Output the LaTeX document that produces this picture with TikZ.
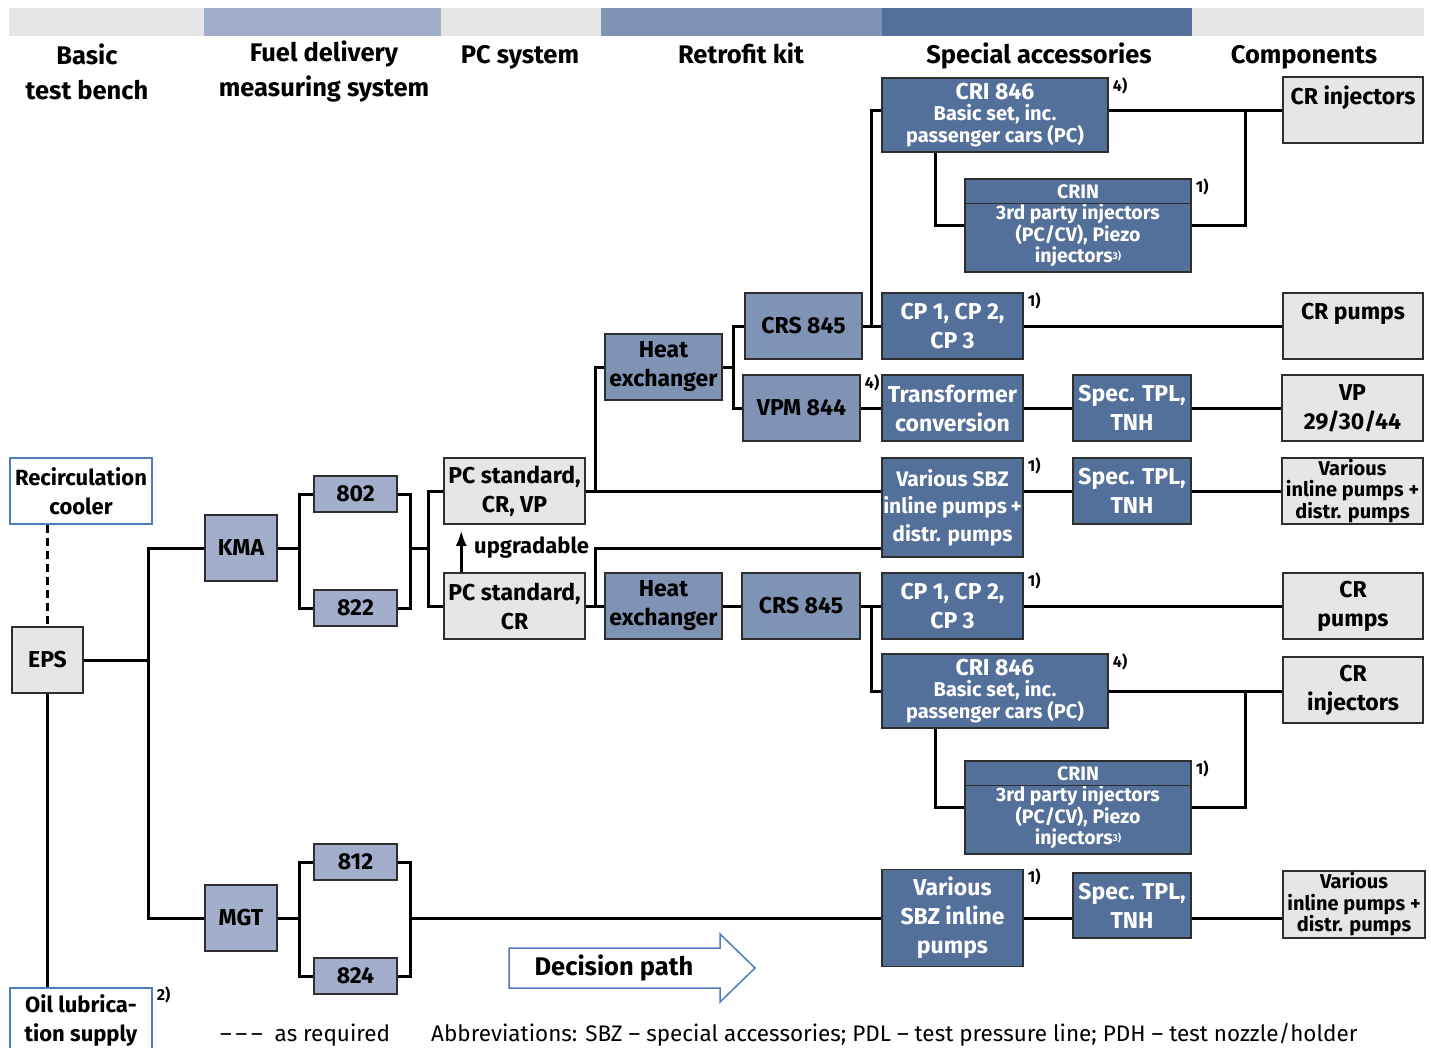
\documentclass[tikz,border=0pt]{standalone}
\usepackage{fontspec}
\setmainfont{Fira Sans}
\usetikzlibrary{arrows.meta}
\definecolor{boxgray}{HTML}{E6E6E6}
\definecolor{bluelite}{HTML}{A3AECA}
\definecolor{bluemid}{HTML}{7F93B4}
\definecolor{bluedark}{HTML}{53709B}
\definecolor{blueline}{HTML}{4F7DB8}
\definecolor{edgegray}{HTML}{2E2E2E}
\newcommand{\fnmark}[1]{\raisebox{3pt}{\fontsize{10}{10}\selectfont #1}}
\begin{document}
\begin{tikzpicture}[x=1pt,y=-1pt,
  box/.style={draw=edgegray, line width=1.5pt, inner sep=0pt, align=center,
    font=\bfseries\fontsize{23}{29}\selectfont},
  wh/.style 2 args={minimum width=#1pt, minimum height=#2pt},
  graybox/.style={box, fill=boxgray},
  litebox/.style={box, fill=bluelite},
  midbox/.style={box, fill=bluemid},
  darkbox/.style={box, fill=bluedark, text=white},
  plainbox/.style={box, fill=white, draw=blueline, font=\bfseries\fontsize{22}{29}\selectfont},
  smalltext/.style={font=\bfseries\fontsize{20}{21.5}\selectfont},
  crintext/.style={font=\bfseries\fontsize{19.5}{21}\selectfont},
  head/.style={font=\bfseries\fontsize{25.5}{35}\selectfont, align=center},
  fnote/.style={font=\bfseries\fontsize{16}{16}\selectfont, anchor=north west, inner sep=0pt, xshift=4pt},
  wire/.style={line width=3pt}]
\useasboundingbox (0,0) rectangle (1431,1047);
\clip (0,0) rectangle (1431,1047);

% column bars and titles
\fill[boxgray] (9,8) rectangle (204,36);
\fill[bluelite] (204,8) rectangle (441,36);
\fill[boxgray] (441,8) rectangle (601,36);
\fill[bluemid] (601,8) rectangle (882,36);
\fill[bluedark] (882,8) rectangle (1192,36);
\fill[boxgray] (1192,8) rectangle (1424,36);
\node[head] (hBasic) at (87,71.5) {Basic\\test bench};
\node[head] (hFuel) at (324,71.5) {Fuel delivery\\measuring system};
\node[head, anchor=base] (hPC) at (520,63) {PC system};
\node[head, anchor=base] (hRetro) at (741,63) {Retrofit kit};
\node[head, anchor=base] (hSpec) at (1039,63) {Special accessories};
\node[head, anchor=base] (hComp) at (1304,63) {Components};

% basic test bench
\node[plainbox, wh={142}{66}] (cooler) at (81,491) {Recirculation\\cooler};
\node[graybox, wh={71}{66}] (eps) at (47.5,660) {EPS};
\node[plainbox, wh={142}{66}, anchor=north] (oil) at (81,987) {Oil lubrica-\\tion supply};
\node[fnote] at (oil.north east) {2)};

% fuel delivery measuring system
\node[litebox, wh={72}{66}] (kma) at (241,548) {KMA};
\node[litebox, wh={72}{66}] (mgt) at (241,918) {MGT};
\node[litebox, wh={83}{36}] (f802) at (355.5,494) {802};
\node[litebox, wh={83}{36}] (f822) at (355.5,608) {822};
\node[litebox, wh={83}{36}] (f812) at (355.5,862) {812};
\node[litebox, wh={83}{36}] (f824) at (355.5,976) {824};

% PC system
\node[graybox, wh={141}{66}] (pcvp) at (514.5,491) {PC standard,\\CR, VP};
\node[graybox, wh={141}{66}] (pccr) at (514.5,606) {PC standard,\\CR};

% retrofit kit
\node[midbox, wh={117}{66}] (hexA) at (663.5,367) {Heat\\exchanger};
\node[midbox, wh={117}{66}] (crsA) at (803.5,326) {CRS 845};
\node[midbox, wh={117}{66}] (vpm) at (801.5,408) {VPM 844};
\node[fnote] at (vpm.north east) {4)};
\node[midbox, wh={117}{66}] (hexB) at (663.5,606) {Heat\\exchanger};
\node[midbox, wh={118}{66}] (crsB) at (801,606) {CRS 845};

% special accessories
\node[darkbox, wh={226}{74}, smalltext] (criA) at (995,115) {{\fontsize{23}{23}\selectfont CRI 846}\\Basic set, inc.\\passenger cars (PC)};
\node[fnote] at (criA.north east) {4)};
\node[darkbox, wh={226}{93}, crintext] (crinA) at (1078,225.5) {CRIN\\3rd party injectors\\(PC/CV), Piezo\\injectors\fnmark{3)}};
\node[fnote] at (crinA.north east) {1)};
\node[darkbox, wh={141}{66}] (cpA) at (952.5,326) {CP 1, CP 2,\\CP 3};
\node[fnote] at (cpA.north east) {1)};
\node[darkbox, wh={141}{66}] (trf) at (952.5,408) {Transformer\\conversion};
\node[darkbox, wh={141}{99}, font=\bfseries\fontsize{21}{27.5}\selectfont] (sbzA) at (952.5,507.5) {Various SBZ\\inline pumps\,+\\distr. pumps};
\node[fnote] at (sbzA.north east) {1)};
\node[darkbox, wh={141}{66}] (cpB) at (952.5,606) {CP 1, CP 2,\\CP 3};
\node[fnote] at (cpB.north east) {1)};
\node[darkbox, wh={226}{74}, smalltext] (criB) at (995,691) {{\fontsize{23}{23}\selectfont CRI 846}\\Basic set, inc.\\passenger cars (PC)};
\node[fnote] at (criB.north east) {4)};
\node[darkbox, wh={226}{93}, crintext] (crinB) at (1078,807.5) {CRIN\\3rd party injectors\\(PC/CV), Piezo\\injectors\fnmark{3)}};
\node[fnote] at (crinB.north east) {1)};
\node[darkbox, wh={141}{97}] (sbzB) at (952.5,918) {Various\\SBZ inline\\pumps};
\node[fnote] at (sbzB.north east) {1)};
\node[darkbox, wh={118}{66}] (tplA) at (1132,408) {Spec. TPL,\\TNH};
\node[darkbox, wh={118}{66}] (tplB) at (1132,491) {Spec. TPL,\\TNH};
\node[darkbox, wh={118}{65}] (tplC) at (1132,905.5) {Spec. TPL,\\TNH};

% components
\node[graybox, wh={140}{66}] (injA) at (1353,110) {CR injectors\\~};
\node[graybox, wh={140}{66}] (pumpA) at (1353,326) {CR pumps\\~};
\node[graybox, wh={141}{66}] (vp) at (1352.5,408) {VP\\29/30/44};
\node[graybox, wh={141}{66}, smalltext] (vipA) at (1352.5,491) {Various\\inline pumps +\\distr. pumps};
\node[graybox, wh={140}{66}] (pumpB) at (1353,606) {CR\\pumps};
\node[graybox, wh={140}{66}] (injB) at (1353,690) {CR\\injectors};
\node[graybox, wh={142}{67}, smalltext] (vipB) at (1354,904.5) {Various\\inline pumps +\\distr. pumps};

% CRIN title bands
\draw[line width=1.5pt, edgegray] ([yshift=-25pt]crinA.north west) -- ([yshift=-25pt]crinA.north east);
\draw[line width=1.5pt, edgegray] ([yshift=-25pt]crinB.north west) -- ([yshift=-25pt]crinB.north east);

% basic bench links
\draw[wire, dash pattern=on 8pt off 5pt] (eps.north |- cooler.south) -- (eps.north);
\draw[wire] (eps.south) -- (eps.south |- oil.north);
\coordinate (busA) at (148,548);
\draw[wire] (eps.east) -- (eps.east -| busA);
\draw[wire] (kma.west) -- (busA) |- (mgt.west);

% KMA branch
\coordinate (kmaL) at (299,548);
\coordinate (kmaR) at (410,548);
\coordinate (pcL) at (428,548);
\draw[wire] (kma.east) -- (kmaL);
\draw[wire] (f802.west) -| (kmaL) |- (f822.west);
\draw[wire] (f802.east) -| (kmaR) |- (f822.east);
\draw[wire] (kmaR) -- (pcL);
\draw[wire] (pcvp.west) -| (pcL) |- (pccr.west);

% MGT branch
\coordinate (mgtL) at (299,918);
\coordinate (mgtR) at (410,918);
\draw[wire] (mgt.east) -- (mgtL);
\draw[wire] (f812.west) -| (mgtL) |- (f824.west);
\draw[wire] (f812.east) -| (mgtR) |- (f824.east);
\draw[wire] (mgtR) -- (mgtR -| sbzB.west);
\draw[wire] (sbzB.east) -- (sbzB.east -| tplC.west);
\draw[wire] (tplC.east |- sbzB.east) -- (vipB.west |- sbzB.east);

% upper PC path
\coordinate (pcA) at (595,491);
\draw[wire] (pcvp.east) -- (pcvp.east -| sbzA.west);
\draw[wire] (hexA.west) -| (pcA);
\draw[wire] (sbzA.east |- tplB.west) -- (tplB.west);
\draw[wire] (tplB.east) -- (vipA.west);
\coordinate (hexAR) at (733,367);
\draw[wire] (hexA.east) -- (hexAR);
\draw[wire] (crsA.west) -| (hexAR) |- (vpm.west);
\draw[wire] (crsA.east) -- (cpA.west);
\draw[wire] (vpm.east) -- (trf.west);
\draw[wire] (trf.east) -- (tplA.west);
\draw[wire] (tplA.east) -- (vp.west);
\draw[wire] (cpA.east) -- (pumpA.west);
\coordinate (cpAL) at (871,326);
\draw[wire] (cpAL) |- (criA.west |- injA.west);
\draw[wire] (criA.east |- injA.west) -- (injA.west);
\coordinate (injAbus) at (1245,110);
\draw[wire] (crinA.east) -| (injAbus);
\draw[wire] ([xshift=-60pt]criA.south) |- (crinA.west);

% lower PC path
\coordinate (pcB) at (595,606);
\draw[wire] (pccr.east) -- (hexB.west);
\draw[wire] (pcB) |- ([yshift=-40.5pt]sbzA.west);
\draw[wire] (hexB.east) -- (crsB.west);
\draw[wire] (crsB.east) -- (cpB.west);
\draw[wire] (cpB.east) -- (pumpB.west);
\coordinate (cpBL) at (871,606);
\draw[wire] (cpBL) |- (criB.west);
\draw[wire] (criB.east) -- (criB.east -| injB.west);
\coordinate (injBbus) at (1245,691);
\draw[wire] (crinB.east) -| (injBbus);
\draw[wire] ([xshift=-60pt]criB.south) |- (crinB.west);

% upgrade hint
\draw[-{Latex[length=15pt,width=11pt]}, line width=2.5pt] ([xshift=18pt]pccr.north west) -- ([xshift=18pt,yshift=-6pt]pcvp.south west);
\node[anchor=west, font=\bfseries\fontsize{22}{22}\selectfont, inner sep=0pt] (upg) at (474,548) {upgradable};

% decision path
\draw[draw=blueline, fill=white, line width=1.5pt] (509,948) -- (720,948) -- (720,934) -- (755,968) -- (720,1002) -- (720,988) -- (509,988) -- cycle;
\node[font=\bfseries\fontsize{25.5}{25.5}\selectfont] (dpath) at (614,968) {Decision path};

% legend
\node[anchor=base west, inner sep=0pt, font=\fontsize{22.5}{22.5}\selectfont] (asreq) at (220,1041) {\textendash\,\textendash\,\textendash\ \ as required};
\node[anchor=base west, inner sep=0pt, font=\fontsize{22.5}{22.5}\selectfont] (abbr) at (431,1041) {Abbreviations: SBZ \textendash\ special accessories; PDL \textendash\ test pressure line; PDH \textendash\ test nozzle/holder};
\end{tikzpicture}
\end{document}
